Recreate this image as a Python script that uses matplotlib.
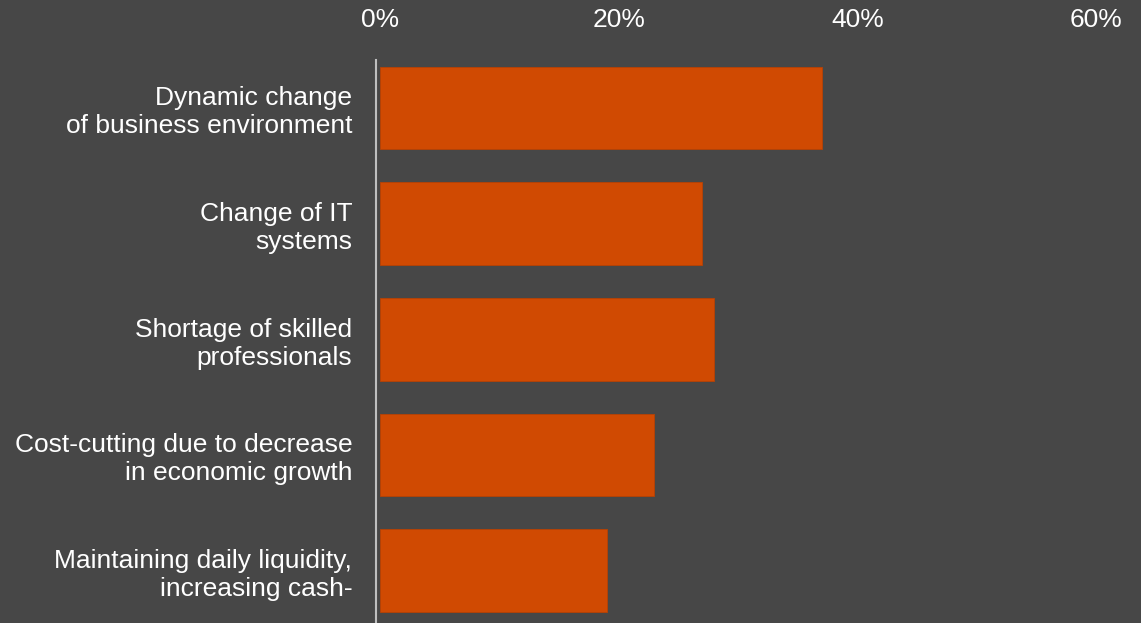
import matplotlib.pyplot as plt
from matplotlib.ticker import FuncFormatter

# === Survey data ===
categories = [
    "Dynamic change\nof business environment",
    "Change of IT\nsystems",
    "Shortage of skilled\nprofessionals",
    "Cost-cutting due to decrease\nin economic growth",
    "Maintaining daily liquidity,\nincreasing cash-",
]
shares = [37, 27, 28, 23, 19]
x_ticks = [0, 20, 40, 60]

BG = "#474747"
BAR = "#D04A02"
TEXT = "#FFFFFF"

plt.rcParams["font.family"] = ["Liberation Sans", "DejaVu Sans"]

fig = plt.figure(figsize=(11.41, 6.23), dpi=100, facecolor=BG)
ax = fig.add_axes([380 / 1141, 0, 716 / 1141, 563 / 623], facecolor=BG)

ypos = list(range(len(categories)))
ax.barh(ypos, shares, height=0.714, color=BAR, edgecolor="#B84203", linewidth=0.6)

ax.set_xlim(0, 60)
ax.set_ylim(len(categories) - 1 + 0.454, -0.415)

ax.xaxis.tick_top()
ax.set_xticks(x_ticks)
ax.xaxis.set_major_formatter(FuncFormatter(lambda v, _: f"{v:.0f}%"))
ax.tick_params(axis="x", length=0, pad=20, labelsize=19, labelcolor=TEXT)

ax.set_yticks(ypos)
ax.set_yticklabels(categories, linespacing=1.4)
ax.tick_params(axis="y", length=0, pad=17, labelsize=19, labelcolor=TEXT)

for side in ["top", "right", "bottom"]:
    ax.spines[side].set_visible(False)
ax.spines["left"].set_color("#BFBFBF")
ax.spines["left"].set_linewidth(1.5)
ax.spines["left"].set_position(("outward", 3))

fig.savefig("out.png", dpi=100, facecolor=BG)
